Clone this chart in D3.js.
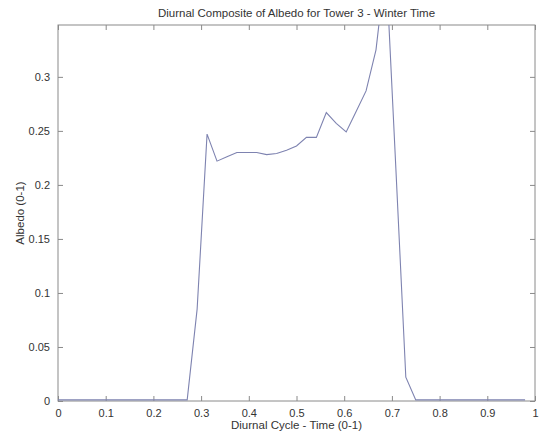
<!DOCTYPE html>
<html>
<head>
<meta charset="utf-8">
<script src="https://cdn.jsdelivr.net/npm/d3@7"></script>
<style>
  html, body { margin: 0; padding: 0; background: #fff; }
  svg { display: block; font-family: "Liberation Sans", Arial, sans-serif; }
</style>
</head>
<body>
<svg id="chart" width="545" height="434"></svg>
<script>
// ---- data (half-hourly diurnal composite, x = i/48) ----
const steps = d3.range(48);
const albedo = [
  0.001, 0.001, 0.001, 0.001, 0.001, 0.001, 0.001, 0.001, 0.001, 0.001,
  0.001, 0.001, 0.001, 0.001, 0.085, 0.247, 0.222, 0.226, 0.230, 0.230,
  0.230, 0.228, 0.229, 0.232, 0.236, 0.244, 0.244, 0.267, 0.257, 0.249,
  0.268, 0.287, 0.325, 0.405, 0.215, 0.022, 0.001, 0.001, 0.001, 0.001,
  0.001, 0.001, 0.001, 0.001, 0.001, 0.001, 0.001, 0.001
];
const xTicks = [0, 0.1, 0.2, 0.3, 0.4, 0.5, 0.6, 0.7, 0.8, 0.9, 1];
const xTickLabels = ["0", "0.1", "0.2", "0.3", "0.4", "0.5", "0.6", "0.7", "0.8", "0.9", "1"];
const yTicks = [0, 0.05, 0.1, 0.15, 0.2, 0.25, 0.3];
const yTickLabels = ["0", "0.05", "0.1", "0.15", "0.2", "0.25", "0.3"];
const yMax = 0.348;
const titleText = "Diurnal Composite of Albedo for Tower 3 - Winter Time";
const xLabelText = "Diurnal Cycle - Time (0-1)";
const yLabelText = "Albedo (0-1)";

const data = steps.map((i) => ({ x: i / 48, y: albedo[i] }));

// ---- layout ----
const L = 58, R = 535, T = 25, B = 401;
const svg = d3.select("#chart");
const x = d3.scaleLinear().domain([0, 1]).range([L, R]);
const y = d3.scaleLinear().domain([0, yMax]).range([B, T]);

const axisColor = "#8a8a8a";
const textColor = "#333";

svg.append("defs").append("clipPath").attr("id", "clip")
  .append("rect").attr("x", L).attr("y", T).attr("width", R - L).attr("height", B - T);

// frame
svg.append("rect").attr("x", L).attr("y", T).attr("width", R - L).attr("height", B - T)
  .attr("fill", "#fff").attr("stroke", axisColor).attr("stroke-width", 1);

// axes (ticks inside)
function styleAxis(g) {
  g.select(".domain").remove();
  g.selectAll(".tick line").attr("stroke", axisColor);
  g.selectAll(".tick text").attr("fill", textColor).style("font-size", "11px")
    .style("font-family", "'Liberation Sans', Arial, sans-serif");
}
const xAxisB = d3.axisBottom(x).tickValues(xTicks).tickSizeInner(-5).tickSizeOuter(0)
  .tickPadding(8).tickFormat((d, i) => xTickLabels[i]);
svg.append("g").attr("transform", `translate(0,${B})`).call(xAxisB).call(styleAxis);

const xAxisT = d3.axisTop(x).tickValues(xTicks).tickSizeInner(-5).tickSizeOuter(0).tickFormat("");
svg.append("g").attr("transform", `translate(0,${T})`).call(xAxisT).call(styleAxis);

const yAxisL = d3.axisLeft(y).tickValues(yTicks).tickSizeInner(-5).tickSizeOuter(0)
  .tickPadding(8).tickFormat((d, i) => yTickLabels[i]);
svg.append("g").attr("transform", `translate(${L},0)`).call(yAxisL).call(styleAxis);

const yAxisR = d3.axisRight(y).tickValues(yTicks).tickSizeInner(-5).tickSizeOuter(0).tickFormat("");
svg.append("g").attr("transform", `translate(${R},0)`).call(yAxisR).call(styleAxis);

// line
const line = d3.line().x((d) => x(d.x)).y((d) => y(d.y));
svg.append("path").datum(data)
  .attr("clip-path", "url(#clip)")
  .attr("fill", "none").attr("stroke", "#7e83b0").attr("stroke-width", 1.1)
  .attr("d", line);

// texts
svg.append("text").attr("x", (L + R) / 2).attr("y", 17).attr("text-anchor", "middle")
  .attr("fill", textColor).style("font-size", "11.5px").text(titleText);
svg.append("text").attr("x", (L + R) / 2).attr("y", 429).attr("text-anchor", "middle")
  .attr("fill", textColor).style("font-size", "11.5px").text(xLabelText);
svg.append("text").attr("transform", `translate(24,${(T + B) / 2}) rotate(-90)`)
  .attr("text-anchor", "middle").attr("fill", textColor).style("font-size", "11.5px").text(yLabelText);
</script>
</body>
</html>
